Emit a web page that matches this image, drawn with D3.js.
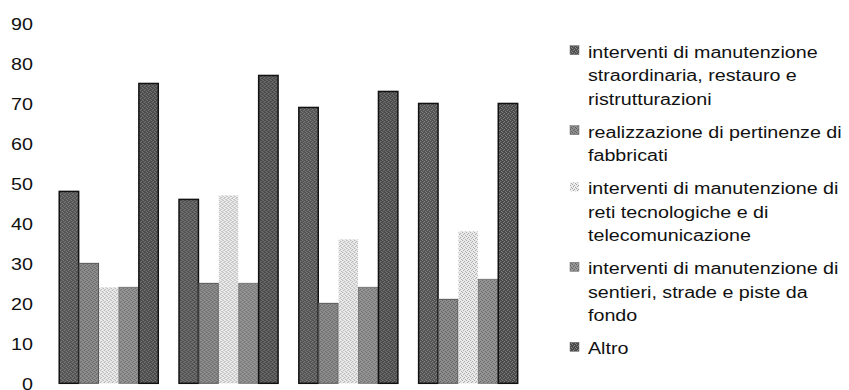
<!DOCTYPE html>
<html>
<head>
<meta charset="utf-8">
<script src="https://cdn.jsdelivr.net/npm/d3@7"></script>
<style>
  body { margin: 0; background: #fff; }
  svg { display: block; }
  text { font-family: "Liberation Sans", Arial, sans-serif; fill: #111; }
</style>
</head>
<body>
<svg width="849" height="390"></svg>
<script>
// gruppi (nessuna etichetta sull'asse x nel grafico)
const groups = ["G1", "G2", "G3", "G4"];

const seriesNames = [
    "interventi di manutenzione straordinaria, restauro e ristrutturazioni",
    "realizzazione di pertinenze di fabbricati",
    "interventi di manutenzione di reti tecnologiche e di telecomunicazione",
    "interventi di manutenzione di sentieri, strade e piste da fondo",
    "Altro"
];

// testo della legenda, spezzato come nell'originale
const legendLines = [
    ["interventi di manutenzione", "straordinaria, restauro e", "ristrutturazioni"],
    ["realizzazione di pertinenze di", "fabbricati"],
    ["interventi di manutenzione di", "reti tecnologiche e di", "telecomunicazione"],
    ["interventi di manutenzione di", "sentieri, strade e piste da", "fondo"],
    ["Altro"]
];

const manutenzioneStraord = [48, 46, 69, 70];
const pertinenze = [30, 25, 20, 21];
const retiTecnologiche = [24, 47, 36, 38];
const sentieri = [24, 25, 24, 26];
const altro = [75, 77, 73, 70];

const yTicks = [0, 10, 20, 30, 40, 50, 60, 70, 80, 90];

const seriesValues = [manutenzioneStraord, pertinenze, retiTecnologiche, sentieri, altro];

const svg = d3.select("svg");
const sx = 1.23; // il testo originale è un po' "allargato"

// texture grigie tipo scansione
const textures = [
    { base: "#525252", dot: "#8a8a8a", stroke: "#111" },
    { base: "#8e8e8e", dot: "#5e5e5e", stroke: "#555" },
    { base: "#ececec", dot: "#a4a4a4", stroke: "none" },
    { base: "#959595", dot: "#666", stroke: "#777" },
    { base: "#4a4a4a", dot: "#858585", stroke: "#111" }
];

const defs = svg.append("defs");
textures.forEach((t, i) => {
    const p = defs.append("pattern")
        .attr("id", "tex-" + i)
        .attr("width", 4).attr("height", 4)
        .attr("patternUnits", "userSpaceOnUse");
    p.append("rect").attr("width", 4).attr("height", 4).attr("fill", t.base);
    [[0, 0], [2, 1], [1, 2], [3, 3]].forEach(([a, b]) => {
        p.append("rect").attr("x", a).attr("y", b).attr("width", 1).attr("height", 1).attr("fill", t.dot);
    });
});

const y = d3.scaleLinear()
    .domain([0, 90])
    .range([383.3, 23.5]);

const x0 = d3.scaleBand()
    .domain(groups)
    .range([48.6, 527.8])
    .paddingInner(0.169)
    .paddingOuter(0.0845);

const x1 = d3.scaleBand()
    .domain(d3.range(seriesNames.length))
    .range([0, x0.bandwidth()])
    .padding(0);

// asse y: solo etichette
const yAxis = svg.append("g")
    .attr("transform", "translate(33,0.6)")
    .call(d3.axisLeft(y).tickValues(yTicks).tickSize(0).tickPadding(0));
yAxis.select(".domain").remove();
yAxis.selectAll("text")
    .attr("x", 0)
    .attr("transform", `scale(${sx},1)`)
    .style("font-size", "16px")
    .style("font-family", "'Liberation Sans', Arial, sans-serif")
    .attr("fill", "#111");

// barre
const gGroups = svg.append("g")
    .selectAll("g")
    .data(groups)
    .enter().append("g")
    .attr("transform", d => `translate(${x0(d)},0)`);

gGroups.selectAll("rect")
    .data((g, gi) => seriesValues.map((vals, si) => ({ si, v: vals[gi] })))
    .enter().append("rect")
    .attr("x", d => x1(d.si) + 0.5)
    .attr("y", d => y(d.v))
    .attr("width", x1.bandwidth() - 0.5)
    .attr("height", d => y(0) - y(d.v))
    .attr("fill", d => `url(#tex-${d.si})`)
    .attr("stroke", d => textures[d.si].stroke)
    .attr("stroke-width", d => (d.si === 0 || d.si === 4) ? 1.5 : 1);

// legenda: interlinea 23.4, spazio extra tra le voci 9.8
const legend = svg.append("g");
let baseY = 57.7;
legendLines.forEach((lines, i) => {
    legend.append("rect")
        .attr("x", 570)
        .attr("y", baseY - 12)
        .attr("width", 9)
        .attr("height", 9)
        .attr("fill", `url(#tex-${i})`)
        .attr("stroke", i === 2 ? "none" : "#666")
        .attr("stroke-width", 0.5);
    lines.forEach((line, li) => {
        legend.append("text")
            .attr("transform", `translate(588,${baseY + li * 23.4}) scale(${sx},1)`)
            .style("font-size", "16px")
            .text(line);
    });
    baseY += lines.length * 23.4 + 9.8;
});
</script>
</body>
</html>
